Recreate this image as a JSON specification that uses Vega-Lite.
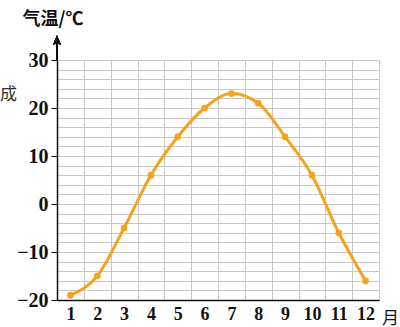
{
  "$schema": "https://vega.github.io/schema/vega-lite/v6.json",
  "width": 322,
  "height": 240,
  "autosize": {"type": "none"},
  "padding": {"left": 57, "top": 60, "right": 21, "bottom": 27},
  "background": "white",
  "title": {"text": "成", "anchor": "start", "frame": "group", "orient": "top", "offset": 0, "dx": -57, "dy": 102, "baseline": "middle", "font": "Noto Sans CJK SC", "fontSize": 17, "fontWeight": "normal", "color": "#333"},
  "data": {"values": [
    {"month": 1, "temp": -19},
    {"month": 2, "temp": -15},
    {"month": 3, "temp": -5},
    {"month": 4, "temp": 6},
    {"month": 5, "temp": 14},
    {"month": 6, "temp": 20},
    {"month": 7, "temp": 23},
    {"month": 8, "temp": 21},
    {"month": 9, "temp": 14},
    {"month": 10, "temp": 6},
    {"month": 11, "temp": -6},
    {"month": 12, "temp": -16}
  ]},
  "config": {"view": {"stroke": null}},
  "encoding": {
    "x": {"field": "month", "type": "quantitative", "scale": {"domain": [0.5, 12.5], "nice": false, "zero": false},
      "axis": {"values": [1, 1.5, 2, 2.5, 3, 3.5, 4, 4.5, 5, 5.5, 6, 6.5, 7, 7.5, 8, 8.5, 9, 9.5, 10, 10.5, 11, 11.5, 12, 12.5],
        "labelExpr": "datum.value % 1 == 0 ? format(datum.value, 'd') : ''",
        "labelOverlap": false,
        "grid": true, "gridColor": "#c8c8c8", "gridWidth": 1,
        "gridOpacity": {"expr": "datum.value % 1 == 0 ? 0 : 1"},
        "ticks": false, "domainColor": "#111", "domainWidth": 1.5,
        "labelFont": "Liberation Serif", "labelFontWeight": "bold", "labelFontSize": 18, "labelColor": "#111",
        "labelPadding": 5, "labelFlush": false,
        "title": "月", "titleAngle": 0, "titleX": 333, "titleY": 18, "titleBaseline": "middle", "titleAlign": "center",
        "titleFont": "Noto Sans CJK SC", "titleFontSize": 17, "titleFontWeight": "normal", "titleColor": "#111"}},
    "y": {"field": "temp", "type": "quantitative", "scale": {"domain": [-20, 30], "nice": false, "zero": false},
      "axis": {"values": [-20, -18, -16, -14, -12, -10, -8, -6, -4, -2, 0, 2, 4, 6, 8, 10, 12, 14, 16, 18, 20, 22, 24, 26, 28, 30],
        "format": "d",
        "labelExpr": "datum.value % 10 == 0 ? datum.label : ''",
        "labelOverlap": false,
        "grid": true, "gridColor": "#c8c8c8", "gridWidth": 1,
        "ticks": true, "tickSize": 6, "tickColor": "#111",
        "tickOpacity": {"expr": "datum.value % 10 == 0 ? 1 : 0"},
        "domainColor": "#111", "domainWidth": 1.5,
        "labelFont": "Liberation Serif", "labelFontWeight": "bold", "labelFontSize": 20, "labelColor": "#111",
        "labelPadding": 3, "labelFlush": false,
        "title": "气温/℃", "titleAngle": 0, "titleX": -35, "titleY": -41, "titleAlign": "left", "titleBaseline": "middle",
        "titleFont": "Noto Sans CJK SC", "titleFontSize": 18, "titleFontWeight": "bold", "titleColor": "#111"}}
  },
  "layer": [
    {"mark": {"type": "line", "color": "#f5a21e", "strokeWidth": 3, "interpolate": "monotone"}},
    {"mark": {"type": "point", "filled": true, "color": "#f5a21e", "size": 45, "opacity": 1}},
    {
      "mark": {"type": "rule", "color": "#111", "strokeWidth": 1.5, "clip": false},
      "encoding": {"x": {"datum": 0.5, "type": "quantitative"}, "y": {"datum": 30, "type": "quantitative"}, "y2": {"datum": 33.5}}
    },
    {
      "mark": {"type": "point", "shape": "M-1,1L0,-1.4L1,1L0,0.6Z", "filled": true, "color": "#111", "size": 60, "opacity": 1, "clip": false},
      "encoding": {"x": {"datum": 0.5, "type": "quantitative"}, "y": {"datum": 34, "type": "quantitative"}}
    }
  ]
}
